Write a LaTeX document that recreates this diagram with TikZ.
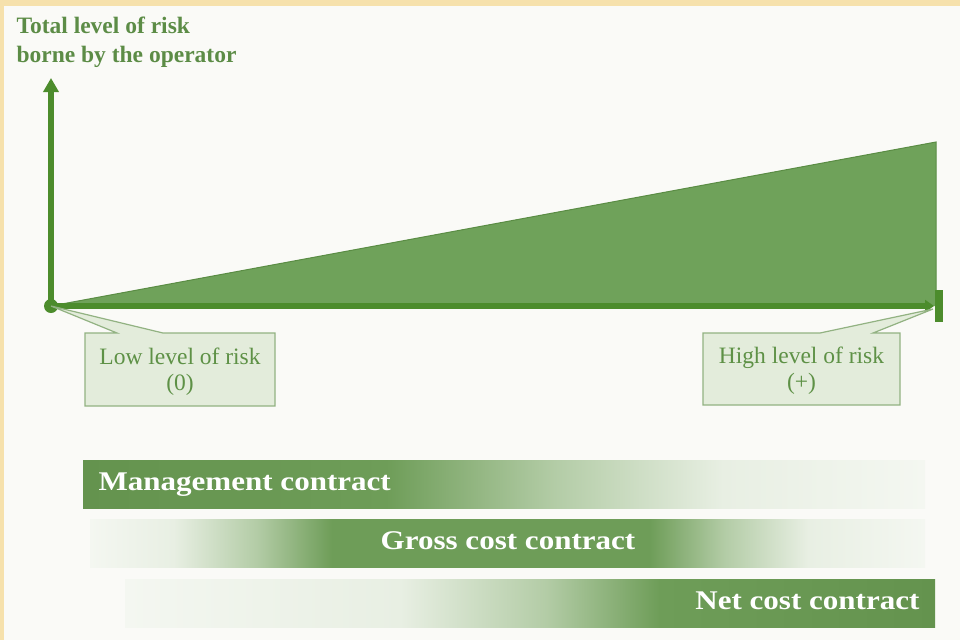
\documentclass[tikz,border=0pt]{standalone}
\usepackage{fontspec}
\setmainfont{Liberation Serif}
\newfontfamily\barfont[FakeStretch=1.15]{Liberation Serif}
\usetikzlibrary{arrows.meta}

% palette
\definecolor{pagebg}{HTML}{FAFAF7}
\definecolor{frameyellow}{HTML}{F6E1AC}
\definecolor{axisgreen}{HTML}{4C8C2C}
\definecolor{wedgegreen}{HTML}{6FA25A}
\definecolor{wedgeedge}{HTML}{5A8C44}
\definecolor{titlegreen}{HTML}{5C8C46}
\definecolor{labelgreen}{HTML}{5E9146}
\definecolor{boxfill}{HTML}{E3ECDB}
\definecolor{boxedge}{HTML}{92B282}
\definecolor{barDark}{HTML}{64934E}
\definecolor{barGreen}{HTML}{6E9D58}
\definecolor{barMid}{HTML}{B3CCA6}
\definecolor{barPale}{HTML}{E8EFE3}
\definecolor{barFaint}{HTML}{F4F7F1}

% bar fades (path box spans 25bp..75bp)
\pgfdeclarehorizontalshading{mgmtshade}{100bp}{%
  color(0bp)=(barDark); color(25bp)=(barDark); color(43bp)=(barGreen);
  color(53bp)=(barMid); color(63bp)=(barPale); color(75bp)=(barFaint);
  color(100bp)=(barFaint)}
\pgfdeclarehorizontalshading{grossshade}{100bp}{%
  color(0bp)=(barFaint); color(25bp)=(barFaint); color(30bp)=(barPale);
  color(35bp)=(barMid); color(39.5bp)=(barGreen); color(58.5bp)=(barGreen);
  color(63bp)=(barMid); color(68bp)=(barPale); color(75bp)=(barFaint);
  color(100bp)=(barFaint)}
\pgfdeclarehorizontalshading{netshade}{100bp}{%
  color(0bp)=(barFaint); color(25bp)=(barFaint); color(42bp)=(barPale);
  color(51bp)=(barMid); color(58bp)=(barGreen); color(75bp)=(barDark);
  color(100bp)=(barDark)}

\begin{document}
\begin{tikzpicture}[x=1pt,y=-1pt,
  axis/.style={draw=axisgreen,line width=5.5pt},
  callout/.style={fill=boxfill,draw=boxedge,line width=1.2pt,line join=miter},
  calltext/.style={text=labelgreen,font=\fontsize{23.5}{26}\selectfont,anchor=base},
  bartext/.style={text=white,font=\barfont\bfseries\fontsize{27}{30}\selectfont},
  titletext/.style={text=titlegreen,font=\bfseries\fontsize{23.5}{29}\selectfont,anchor=base west}]

\useasboundingbox (0,0) rectangle (960,640);
% page and frame
\fill[pagebg] (0,0) rectangle (960,640);
\fill[frameyellow] (0,0) rectangle (960,6);
\fill[frameyellow] (0,0) rectangle (4,640);

% key points of the chart
\coordinate (O) at (51,306);
\coordinate (ytip) at (51,78);
\coordinate (xtip) at (934,306);
\coordinate (wedgetop) at (936,142);
\coordinate (wedgefoot) at (936,306);

% risk wedge
\fill[wedgegreen] (O) -- (wedgetop) -- (wedgefoot) -- cycle;
\draw[wedgeedge,line width=1pt] (O) -- (wedgetop) -- (wedgefoot);

% axes
\draw[axis,-{Triangle[length=14pt,width=15pt]}] (O) -- (ytip);
\draw[axis,-{Triangle[length=9pt,width=12pt]}] (O) -- (xtip);
\fill[axisgreen] (935,290) rectangle (943,322);
\fill[axisgreen] (O) circle (7);

% axis title
\node[titletext] (ttl1) at (13,33) {Total level of risk};
\node[titletext] (ttl2) at (13,62) {borne by the operator};

% callouts
\draw[callout] (85,333) -- (117,333) -- (O) -- (163,333) -- (275,333)
  -- (275,406) -- (85,406) -- cycle;
\node[calltext] (low1) at (180,364) {Low level of risk};
\node[calltext] (low2) at (180,390) {(0)};

\draw[callout] (703,333) -- (820,333) -- (933,309) -- (873,333) -- (900,333)
  -- (900,405) -- (703,405) -- cycle;
\node[calltext] (high1) at (801.5,363) {High level of risk};
\node[calltext] (high2) at (801.5,389) {(+)};

% contract bars
\fill[shading=mgmtshade] (83,460) rectangle (925,508);
\node[bartext,anchor=base west] (mgmt) at (95,490) {Management contract};

\fill[shading=grossshade] (90,519) rectangle (925,567);
\node[bartext,anchor=base] (gross) at (508,549) {Gross cost contract};

\fill[shading=netshade] (125,579) rectangle (935,627);
\node[bartext,anchor=base east] (net) at (923,609) {Net cost contract};

\end{tikzpicture}
\end{document}
